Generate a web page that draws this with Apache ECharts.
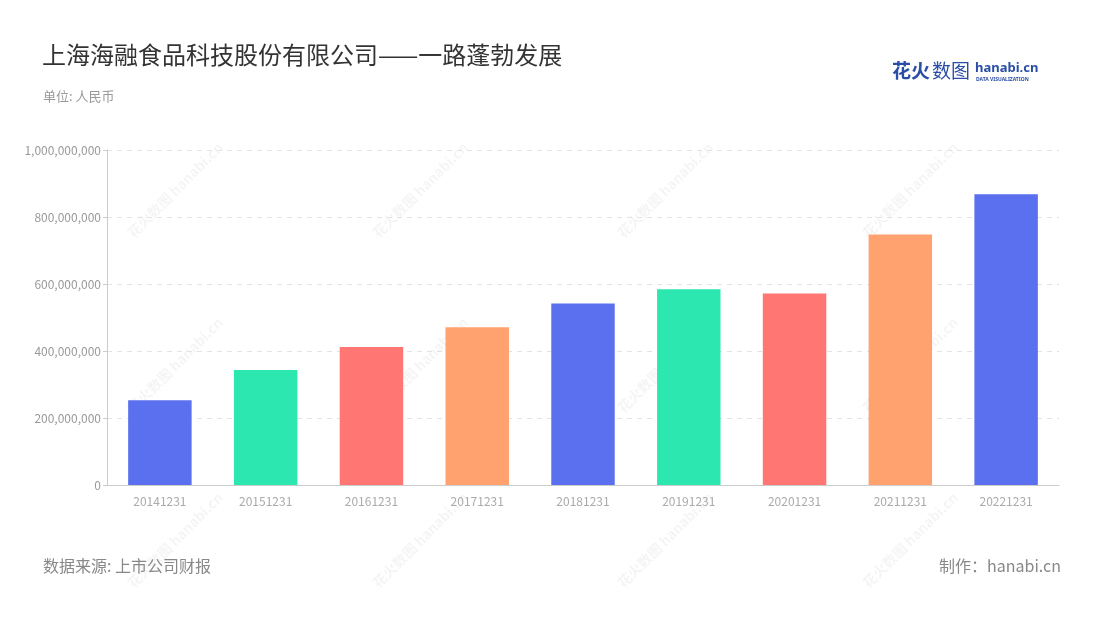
<!DOCTYPE html>
<html><head><meta charset="utf-8">
<script src="https://cdn.jsdelivr.net/npm/echarts@6/dist/echarts.min.js"></script>
<style>html,body{margin:0;padding:0;background:#fff}#c{width:1100px;height:620px}</style>
</head><body><div id="c"></div>
<script>
const categories = ['20141231','20151231','20161231','20171231','20181231','20191231','20201231','20211231','20221231'];
const revenue = [253000000, 343000000, 412000000, 471000000, 542000000, 584000000, 572000000, 748000000, 868000000];
const barColors = ['#5A70EE','#2DE7B1','#FF7672','#FFA26F'];
const yTicks = [0, 1000000000, 200000000];

const chart = echarts.init(document.getElementById('c'));
const font = '"Noto Sans CJK SC","Noto Sans",sans-serif';
const wm = [];
[160,405,650,895].forEach(x=>{[150,325,500].forEach(y=>{
  wm.push({type:'text',left:x-35,top:y-10,rotation:Math.PI/4,silent:true,z:0,
    style:{text:'花火数图 hanabi.cn',fill:'rgba(0,0,0,0.045)',font:'bold 14px '+font}});
});});
chart.setOption({
  textStyle:{fontFamily:font},
  title:[
    {text:'上海海融食品科技股份有限公司——一路蓬勃发展',left:42,top:43,padding:0,textStyle:{fontSize:24,fontWeight:'normal',color:'#333'}},
    {text:'单位: 人民币',left:43,top:90,padding:0,textStyle:{fontSize:13,fontWeight:'normal',color:'#999'}},
    {text:'数据来源: 上市公司财报',left:43,top:558,padding:0,textStyle:{fontSize:16,fontWeight:'normal',color:'#888'}},
    {text:'制作：hanabi.cn',right:39,top:558,padding:0,textStyle:{fontSize:16,fontWeight:'normal',color:'#888'}}
  ],
  graphic:wm.concat([
    {type:'text',left:892,top:61,style:{text:'花火',fill:'#2A4EA6',font:'bold 19px '+font}},
    {type:'text',left:932,top:61,style:{text:'数图',fill:'#2A4EA6',font:'19px '+font}},
    {type:'text',left:975,top:62,style:{text:'hanabi.cn',fill:'#2A4EA6',font:'bold 13px "Noto Sans",sans-serif'}},
    {type:'text',left:976,top:77,style:{text:'DATA VISUALIZATION',fill:'#2A4EA6',font:'bold 5px "Noto Sans",sans-serif'}}
  ]),
  grid:{left:107,right:41,top:150,bottom:135,containLabel:false},
  xAxis:{type:'category',data:categories,
    axisLine:{lineStyle:{color:'#ccc'}},axisTick:{alignWithLabel:true,lineStyle:{color:'#ccc'}},
    axisLabel:{color:'#aaa',fontSize:12,margin:10}},
  yAxis:{type:'value',min:yTicks[0],max:yTicks[1],interval:yTicks[2],
    axisLine:{show:true,lineStyle:{color:'#ccc'}},axisTick:{show:true,length:4,lineStyle:{color:'#ccc'}},
    axisLabel:{color:'#999',fontSize:12,margin:6,formatter:v=>v.toLocaleString('en-US')},
    splitLine:{lineStyle:{color:'#e3e3e3',type:[5,5]}}},
  series:[{type:'bar',data:revenue,barWidth:'60%',z:3,
    itemStyle:{color:p=>barColors[p.dataIndex%4]}}]
});
</script></body></html>
